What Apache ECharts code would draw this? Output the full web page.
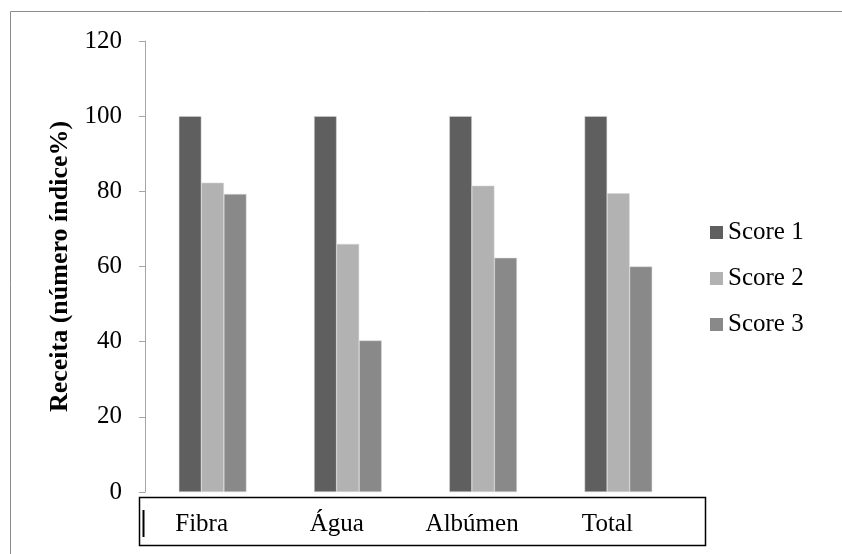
<!DOCTYPE html>
<html>
<head>
<meta charset="utf-8">
<script src="https://cdn.jsdelivr.net/npm/echarts@6/dist/echarts.min.js"></script>
<style>
html,body{margin:0;padding:0;background:#fff;}
#chart{width:842px;height:554px;}
</style>
</head>
<body>
<div id="chart"></div>
<script>
// categorias e valores
const categorias = ['Fibra', 'Água', 'Albúmen', 'Total'];
const score1 = [100, 100, 100, 100];
const score2 = [82.3, 66.0, 81.5, 79.5];
const score3 = [79.3, 40.3, 62.3, 60.0];
const nomes = ['Score 1', 'Score 2', 'Score 3'];
const cores = ['#5f5f5f', '#b2b2b2', '#898989'];

const fonte = 'Liberation Serif, Times New Roman, serif';

let chart = echarts.init(document.getElementById('chart'));

function serie(nome, dados, cor){
    return {
        name: nome,
        type: 'bar',
        data: dados,
        barGap: '0%',
        barCategoryGap: '50%',
        itemStyle: {color: cor, borderColor: '#d8d8d8', borderWidth: 0.5},
        emphasis: {disabled: true}
    }
}

chart.setOption({
    animation: false,
    textStyle: {fontFamily: fonte},
    grid: {left: 145, right: 156, top: 41, bottom: 62},
    legend: {
        orient: 'vertical',
        left: 705,
        top: 215,
        itemWidth: 13,
        itemHeight: 13,
        itemGap: 21,
        itemStyle: {borderWidth: 0},
        icon: 'rect',
        data: nomes,
        textStyle: {fontSize: 25, color: '#000', fontFamily: fonte}
    },
    xAxis: {
        type: 'category',
        data: categorias,
        axisLine: {show: false},
        axisTick: {show: false},
        axisLabel: {
            margin: 20,
            fontSize: 25,
            color: '#000',
            fontFamily: fonte,
            padding: [0, 22, 0, 0]
        }
    },
    yAxis: {
        type: 'value',
        min: 0,
        max: 120,
        interval: 20,
        name: 'Receita (número índice%)',
        nameLocation: 'middle',
        nameGap: 71,
        nameTextStyle: {fontSize: 26, fontWeight: 'bold', color: '#000', fontFamily: fonte},
        axisLine: {show: true, lineStyle: {color: '#a6a6a6', width: 1}},
        axisTick: {show: true, length: 6, lineStyle: {color: '#a6a6a6'}},
        splitLine: {show: false},
        axisLabel: {margin: 23, fontSize: 25, color: '#000', fontFamily: fonte}
    },
    graphic: [
        {
            type: 'rect',
            shape: {x: 10.5, y: 11.5, width: 840, height: 550},
            style: {fill: null, stroke: '#8c8c8c', lineWidth: 1},
            silent: true
        },
        {
            type: 'rect',
            shape: {x: 139.5, y: 497.5, width: 566, height: 48},
            style: {fill: null, stroke: '#000', lineWidth: 1.5},
            silent: true
        },
        {
            type: 'line',
            shape: {x1: 143.5, y1: 510, x2: 143.5, y2: 537},
            style: {stroke: '#000', lineWidth: 2},
            silent: true
        }
    ],
    series: [
        serie(nomes[0], score1, cores[0]),
        serie(nomes[1], score2, cores[1]),
        serie(nomes[2], score3, cores[2])
    ]
});
</script>
</body>
</html>
